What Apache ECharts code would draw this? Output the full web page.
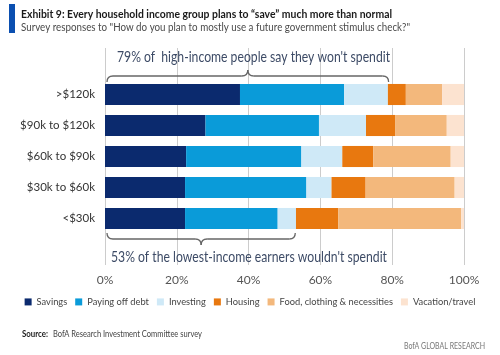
<!DOCTYPE html>
<html><head><meta charset="utf-8">
<script src="https://cdn.jsdelivr.net/npm/echarts@6/dist/echarts.min.js"></script>
<style>html,body{margin:0;padding:0;background:#fff}#c{width:500px;height:355px}</style>
</head><body><div id="c"></div>
<script>
var categories = ['>$120k', '$90k to $120k', '$60k to $90k', '$30k to $60k', '<$30k'];
var savings   = [37.6, 28.0, 22.6, 22.3, 22.3];
var debt      = [29.0, 31.6, 32.1, 33.8, 25.8];
var investing = [12.2, 13.1, 11.4, 7.0, 5.1];
var housing   = [5.0, 8.1, 8.6, 9.5, 11.8];
var food      = [10.1, 14.4, 21.6, 24.8, 34.2];
var vacation  = [6.1, 4.8, 3.7, 2.6, 0.8];
var seriesNames = ['Savings', 'Paying off debt', 'Investing', 'Housing', 'Food, clothing & necessities', 'Vacation/travel'];
var seriesColors = ['#0b2a6e', '#0a9bd9', '#cfe9f7', '#e8780f', '#f3b87c', '#fce3d0'];
var tickValues = [0, 20, 40, 60, 80, 100];
var highIncomeShare = 79, lowIncomeShare = 53;
var titleText = 'Exhibit 9: Every household income group plans to \u201csave\u201d much more than normal';
var subtitleText = 'Survey responses to "How do you plan to mostly use a future government stimulus check?"';
var topNote = "79% of  high-income people say they won't spendit";
var bottomNote = "53% of the lowest-income earners wouldn't spendit";
var sourceLabel = 'Source:';
var sourceText = 'BofA Research Investment Committee survey';
var brandText = 'BofA GLOBAL RESEARCH';

var ctx = document.createElement('canvas').getContext('2d');
function wf(f) { ctx.font = '20px ' + f; return ctx.measureText('Every household income group abc').width; }
function installed(name) {
  var f = "'" + name + "'";
  return wf(f + ', monospace') !== wf('monospace') && wf(f + ', serif') !== wf('serif');
}
// narrowest installed sans face for the axis and legend labels
var cands = ["Liberation Sans Narrow", "DejaVu Sans Condensed", "Lato", "Roboto", "Liberation Sans", "Noto Sans"];
var FONT = "sans-serif", best = 1e9;
cands.forEach(function (n) {
  if (installed(n)) { var v = wf("'" + n + "'"); if (v < best) { best = v; FONT = "'" + n + "', sans-serif"; } }
});
function tw(text, size, weight, font) { ctx.font = (weight || 'normal') + ' ' + size + 'px ' + (font || FONT); return ctx.measureText(text).width; }

var legIcon = 7, legGap = 8;
var legFixed = seriesNames.length * (legIcon + 5) + (seriesNames.length - 1) * legGap;
var fsLeg = Math.min(11.5, Math.floor(20 * (452 - legFixed) / tw(seriesNames.join(''), 20) * 10) / 10);

var chart = echarts.init(document.getElementById('c'), null, {renderer: 'canvas'});
var values = [savings, debt, investing, housing, food, vacation];
var series = values.map(function (v, i) {
  return {
    name: seriesNames[i], type: 'bar', stack: 'all', xAxisIndex: 0, yAxisIndex: 0,
    data: v, barCategoryGap: '32%', itemStyle: {color: seriesColors[i]}, emphasis: {disabled: true}
  };
});
chart.setOption({
  animation: false,
  textStyle: {fontFamily: FONT},
  grid: [
    {left: 105, right: 36, top: 79, height: 155},
    {left: 105, right: 36, top: 48, bottom: 90}
  ],
  xAxis: [
    {gridIndex: 0, type: 'value', min: 0, max: 100, show: false},
    {gridIndex: 1, type: 'value', min: 0, max: 100, interval: 20,
     axisLine: {show: false}, axisTick: {show: false},
     splitLine: {show: true, lineStyle: {color: '#cccccc', width: 1}},
     axisLabel: {formatter: '{value}%', color: '#555', fontSize: 12, margin: 9, fontFamily: FONT}}
  ],
  yAxis: [
    {gridIndex: 0, type: 'category', data: categories, inverse: true,
     axisLine: {show: false}, axisTick: {show: false},
     axisLabel: {color: '#333', fontSize: 11.5, margin: 10, fontFamily: FONT}},
    {gridIndex: 1, type: 'value', show: false}
  ],
  legend: {
    top: 303 - fsLeg * 0.6, left: 'center', itemWidth: legIcon, itemHeight: legIcon, itemGap: legGap, padding: 0,
    icon: 'rect', textStyle: {color: '#444', fontSize: fsLeg, fontFamily: FONT},
    data: seriesNames
  },
  series: series
});

var x0 = chart.convertToPixel({xAxisIndex: 0}, 0) + 2;
var xHi = chart.convertToPixel({xAxisIndex: 0}, highIncomeShare);
var xLo = chart.convertToPixel({xAxisIndex: 0}, lowIncomeShare);

function brace(xa, xb, y, h, dir) {
  var xm = (xa + xb) / 2, r = Math.abs(h);
  var st = {stroke: '#666', lineWidth: 1.3, fill: null};
  var ye = y - dir * r, yt = y + dir * r;
  return [
    {type: 'bezierCurve', shape: {x1: xa, y1: ye, cpx1: xa, cpy1: y, x2: xa + r, y2: y}, style: st},
    {type: 'line', shape: {x1: xa + r, y1: y, x2: xm - r, y2: y}, style: st},
    {type: 'bezierCurve', shape: {x1: xm - r, y1: y, cpx1: xm, cpy1: y, x2: xm, y2: yt}, style: st},
    {type: 'bezierCurve', shape: {x1: xm, y1: yt, cpx1: xm, cpy1: y, x2: xm + r, y2: y}, style: st},
    {type: 'line', shape: {x1: xm + r, y1: y, x2: xb - r, y2: y}, style: st},
    {type: 'bezierCurve', shape: {x1: xb - r, y1: y, cpx1: xb, cpy1: y, x2: xb, y2: ye}, style: st}
  ];
}
// text squeezed horizontally to the width it has in the reference
function txt(x, y, text, size, color, weight, width, align) {
  var sx = width ? Math.min(1, width / tw(text, size, weight)) : 1;
  return {type: 'text', x: x, y: y, scaleX: sx, style: {text: text, fill: color, fontSize: size, fontFamily: FONT,
    fontWeight: weight || 'normal', align: align || 'left', verticalAlign: 'middle'}};
}
var srcFs = 8.5;
var srcLabelW = tw(sourceLabel, srcFs, 'bold') * Math.min(1, 26 / tw(sourceLabel, srcFs, 'bold'));

var g = [
  {type: 'rect', left: 9, top: 4, shape: {width: 6, height: 29}, style: {fill: '#0b4fb0'}},
  txt(21, 14, titleText, 11.5, '#1a1a1a', 'bold', 371),
  txt(21, 27.5, subtitleText, 11.5, '#4a4a4a', 'normal', 389),
  txt(117, 57.5, topNote, 15, '#3d4b66', 'normal', 273),
  txt(111, 257.5, bottomNote, 15, '#3d4b66', 'normal', 276),
  txt(22, 334, sourceLabel, srcFs, '#222', 'bold', 26),
  txt(22 + srcLabelW + 5, 334, sourceText, srcFs, '#444', 'normal', 149),
  txt(485, 346, brandText, 8.5, '#777', 'normal', 81, 'right')
].concat(brace(x0, xHi, 76, 6, -1)).concat(brace(x0, xLo, 239, 6, 1));
chart.setOption({graphic: g});
</script></body></html>
